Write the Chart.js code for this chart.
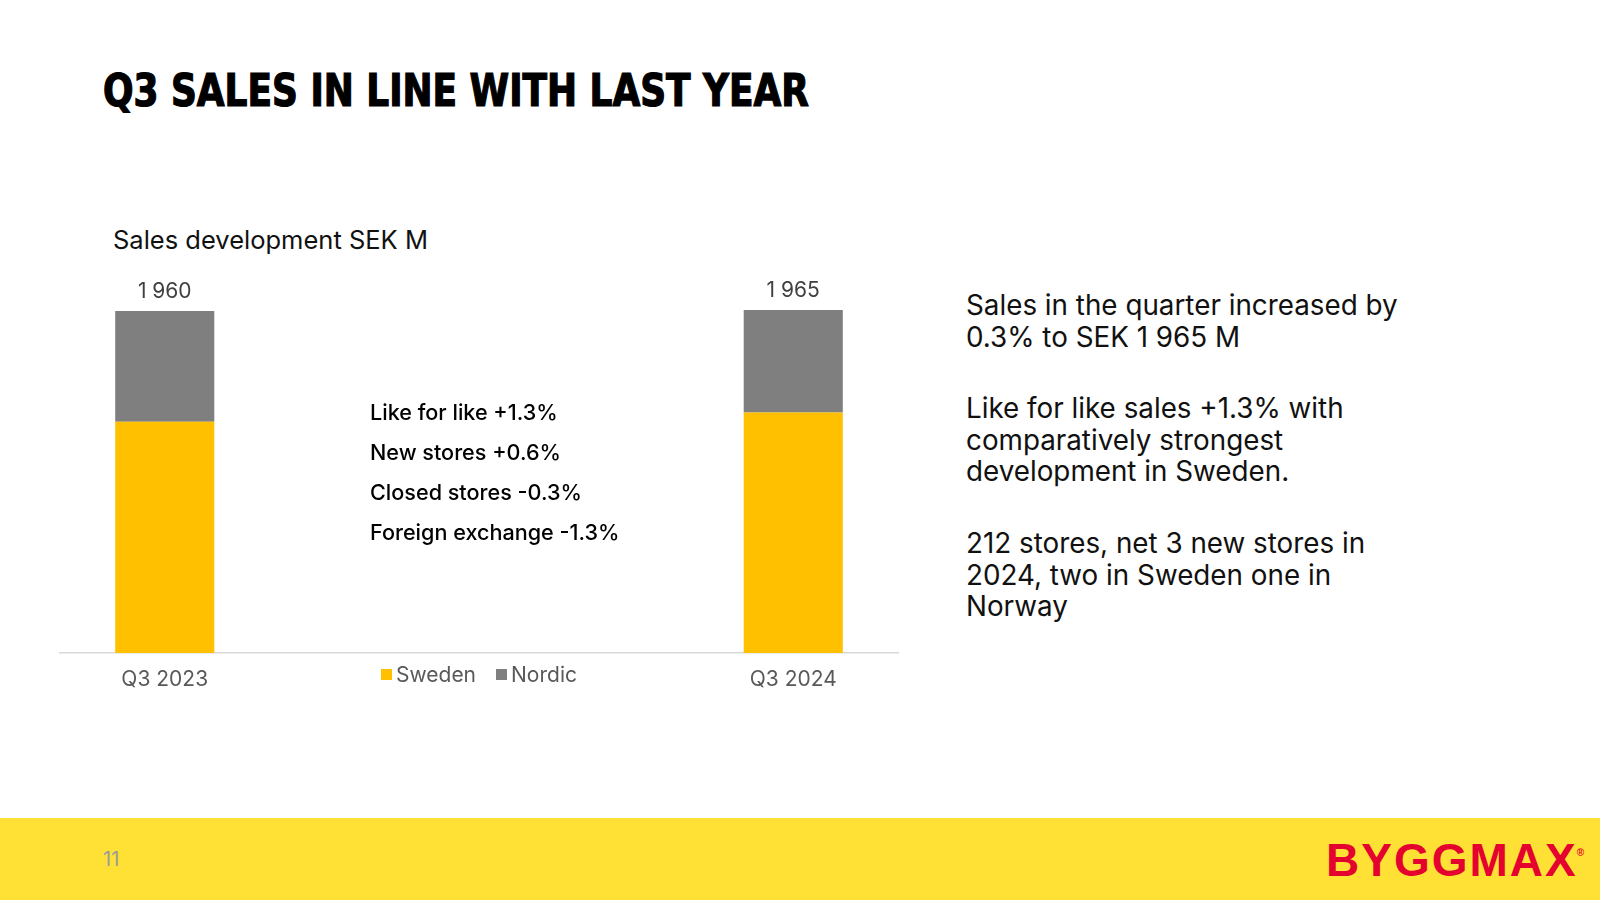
<!DOCTYPE html>
<html>
<head>
<meta charset="utf-8">
<script src="https://cdn.jsdelivr.net/npm/chart.js@4.4.1/dist/chart.umd.min.js"></script>
<style>
  html, body { margin: 0; padding: 0; }
  body { width: 1600px; height: 900px; position: relative; background: #fff; overflow: hidden; font-family: Inter, "Noto Sans", sans-serif; }
  #titel { position: absolute; left: 103px; top: 67px; margin: 0; font-family: "Liberation Sans Narrow", "DejaVu Sans Condensed", sans-serif; font-weight: bold; font-size: 44px; line-height: 48px; color: #000; white-space: nowrap; transform-origin: left top; -webkit-text-stroke: 1.2px #000; }
  #rubrik { position: absolute; left: 113px; top: 224px; font-size: 25.5px; color: #111; }
  #diagram { position: absolute; left: 0; top: 250px; width: 960px; height: 470px; }
  #noter { position: absolute; left: 370px; top: 399px; font-size: 21.6px; font-weight: 500; color: #000; }
  #noter div { height: 40px; line-height: 27px; }
  #legend { position: absolute; left: 381px; top: 662px; font-size: 21px; color: #595959; display: flex; }
  #legend span { display: inline-flex; align-items: center; margin-right: 20px; }
  #legend i { display: inline-block; width: 11px; height: 11px; margin-right: 4px; }
  #text { position: absolute; left: 966px; top: 290px; font-size: 27.8px; line-height: 31.6px; color: #111; }
  #text p { margin: 0 0 40px 0; }
  #fot { position: absolute; left: 0; top: 818px; width: 1600px; height: 82px; background: #FFE135; }
  #sida { position: absolute; left: 103px; top: 847px; font-size: 20px; color: #9a9a9a; }
  #logo { position: absolute; left: 1326px; top: 828px; font-family: "Liberation Sans", Arial, sans-serif; font-weight: bold; font-size: 46px; line-height: 50px; color: #E4032E; letter-spacing: 2px; }
  #logo sup { font-size: 10px; letter-spacing: 0; vertical-align: 20px; margin-left: -1px; }
</style>
</head>
<body>
<h1 id="titel">Q3 SALES IN LINE WITH LAST YEAR</h1>
<div id="rubrik">Sales development SEK M</div>
<div id="diagram"><canvas id="graf"></canvas></div>
<div id="noter"></div>
<div id="legend"></div>
<div id="text">
  <p>Sales in the quarter increased by<br>0.3% to SEK 1 965 M</p>
  <p>Like for like sales +1.3% with<br>comparatively strongest<br>development in Sweden.</p>
  <p>212 stores, net 3 new stores in<br>2024, two in Sweden one in<br>Norway</p>
</div>
<div id="fot"></div>
<div id="sida">11</div>
<div id="logo">BYGGMAX<sup>®</sup></div>

<script>
// data
const kategorier = ["Q3 2023", "Q3 2024"];
const sverige = [1325, 1378];
const norden = [635, 587];
const serier = ["Sweden", "Nordic"];
const farger = ["#FFC000", "#7F7F7F"];
const noter = ["Like for like +1.3%", "New stores +0.6%", "Closed stores -0.3%", "Foreign exchange -1.3%"];

// the bars sit in slot 1 and 4 of four equal slots along the axis
const platser = [0, 3];
const antalPlatser = 4;
const etiketter = Array(antalPlatser).fill("");
platser.forEach((p, i) => etiketter[p] = kategorier[i]);
function iPlatser(varden) {
    const ut = Array(antalPlatser).fill(null);
    platser.forEach((p, i) => ut[p] = varden[i]);
    return ut;
}

const fmt = (n) => n.toString().replace(/\B(?=(\d{3})+(?!\d))/g, " ");

// totals above each stack
const summaPlugin = {
    id: "summa",
    afterDatasetsDraw(chart) {
        const ctx = chart.ctx;
        const y = chart.scales.y;
        const meta = chart.getDatasetMeta(chart.data.datasets.length - 1);
        ctx.save();
        ctx.font = "21px Inter, 'Noto Sans', sans-serif";
        ctx.fillStyle = "#404040";
        ctx.textAlign = "center";
        ctx.textBaseline = "middle";
        platser.forEach((p, i) => {
            const total = sverige[i] + norden[i];
            const x = meta.data[p].x;
            ctx.fillText(fmt(total), x, y.getPixelForValue(total) - 19);
        });
        ctx.restore();
    }
};

new Chart(document.getElementById("graf").getContext("2d"), {
    type: "bar",
    data: {
        labels: etiketter,
        datasets: [
            { label: serier[0], data: iPlatser(sverige), backgroundColor: farger[0] },
            { label: serier[1], data: iPlatser(norden), backgroundColor: farger[1] },
        ],
    },
    options: {
        responsive: true,
        maintainAspectRatio: false,
        animation: false,
        categoryPercentage: 1,
        barPercentage: 0.473,
        layout: { padding: { left: 60, right: 62, top: 19, bottom: 13.7 } },
        plugins: {
            legend: { display: false },
            tooltip: { enabled: false },
        },
        scales: {
            x: {
                stacked: true,
                grid: { display: false, drawTicks: false },
                border: { color: "#D9D9D9", width: 1.5 },
                ticks: { color: "#595959", padding: 14, font: { family: "Inter", size: 21 }, maxRotation: 0, autoSkip: false },
            },
            y: { stacked: true, display: false, min: 0, max: 2200 },
        },
    },
    plugins: [summaPlugin],
});

// legend + notes
document.getElementById("legend").innerHTML = serier
    .map((s, i) => `<span><i style="background:${farger[i]}"></i>${s}</span>`).join("");
document.getElementById("noter").innerHTML = noter.map(t => `<div>${t}</div>`).join("");

// fit the title to the slide width
const titel = document.getElementById("titel");
const b = titel.getBoundingClientRect().width;
titel.style.transform = `scaleX(${706 / b})`;
</script>
</body>
</html>
